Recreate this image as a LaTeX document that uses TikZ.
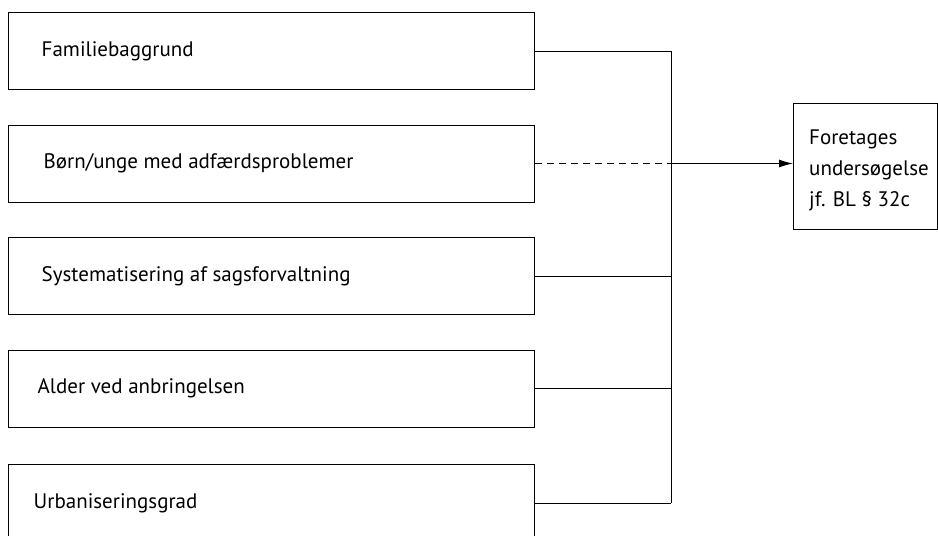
\documentclass[tikz,border=0pt]{standalone}
\usepackage{fontspec}
\setmainfont{PT Sans}
\usetikzlibrary{positioning, arrows.meta, calc}

\begin{document}
\begin{tikzpicture}[x=1pt,y=-1pt]
	% styles
	\tikzset{
		factor/.style = {
			draw, line width=1pt,
			minimum width=526pt, minimum height=77pt,
			inner sep=0pt, anchor=north west
		},
		result/.style = {
			draw, line width=1pt,
			minimum width=144pt, minimum height=126pt,
			inner sep=0pt, anchor=north west
		},
		label/.style = {
			anchor=base west, inner sep=0pt,
			font=\fontsize{21}{29}\selectfont
		},
		link/.style = {line width=1pt}
	}
	\useasboundingbox (0,0) rectangle (938,536);
	
	% the five boxes on the left with their texts
	\foreach \i/\y/\dx/\t in {1/12/34/Familiebaggrund,
		2/124.5/36/Børn\slash unge med adfærdsproblemer,
		3/237/34/Systematisering af sagsforvaltning,
		4/349.5/30/Alder ved anbringelsen,
		5/464/26/Urbaniseringsgrad} {
		\node[factor] (box\i) at (7.5,\y) {};
		\node[label] (txt\i) at ($(box\i.north west)+(\dx,44)$) {\t};
	}
	
	% the box on the right
	\node[result] (res) at (793,102.5) {};
	\foreach \j/\t in {1/Foretages, 2/undersøgelse, 3/jf. BL § 32c} {
		\node[label] (rtxt\j) at ($(res.north west)+(16,11+31*\j)$) {\t};
	}
	
	% joints on the vertical line
	\coordinate (spine) at (671,0);
	\foreach \i in {1,...,5} {
		\coordinate (j\i) at (box\i.east -| spine);
	}
	
	% connectors
	\draw[link] (box1.east) -- (j1);
	\draw[link, dash pattern=on 7pt off 5pt] (box2.east) -- (j2);
	\foreach \i in {3,4,5} {
		\draw[link] (box\i.east) -- (j\i);
	}
	\draw[link] (j1) -- (j5);
	\draw[link, -{Latex[length=14pt,width=8pt]}] (j2) -- (j2 -| res.west);
\end{tikzpicture}
\end{document}
